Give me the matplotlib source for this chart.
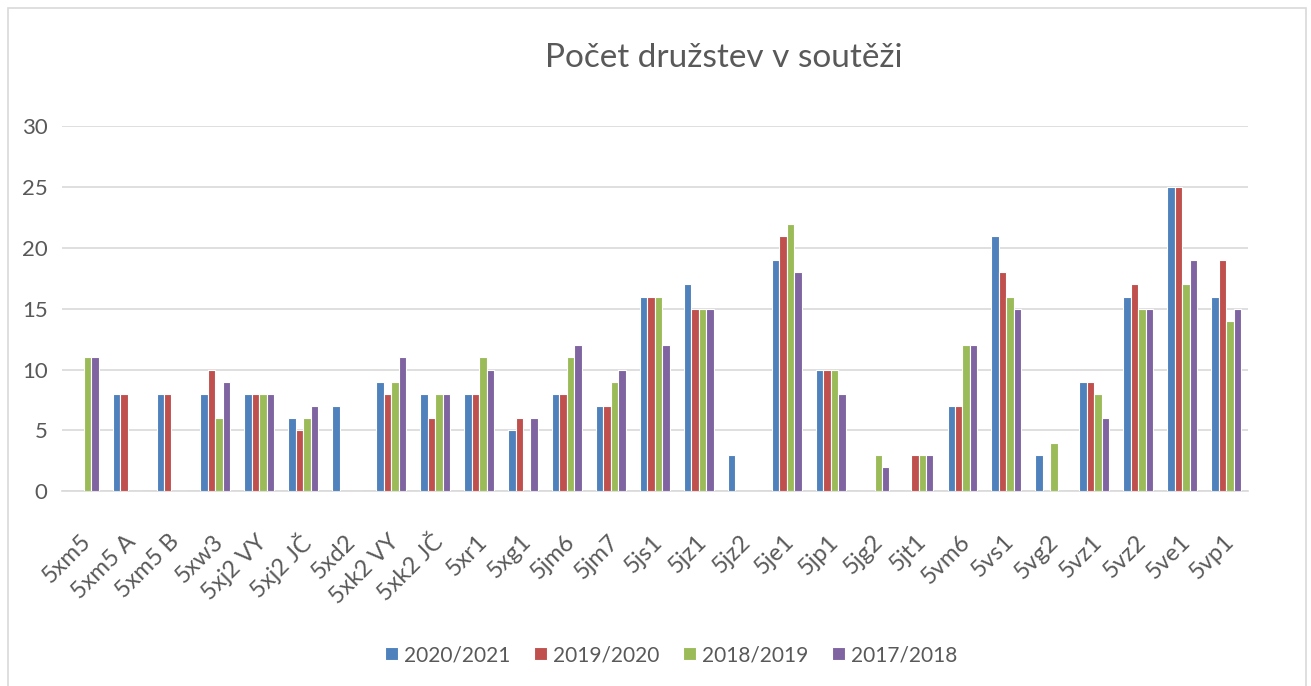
import numpy as np
import matplotlib.pyplot as plt
from matplotlib.patches import Rectangle

categories = ["5xm5", "5xm5 A", "5xm5 B", "5xw3", "5xj2 VY", "5xj2 JČ", "5xd2",
              "5xk2 VY", "5xk2 JČ", "5xr1", "5xg1", "5jm6", "5jm7", "5js1", "5jz1",
              "5jz2", "5je1", "5jp1", "5jg2", "5jt1", "5vm6", "5vs1", "5vg2", "5vz1",
              "5vz2", "5ve1", "5vp1"]
s2020 = [0, 8, 8, 8, 8, 6, 7, 9, 8, 8, 5, 8, 7, 16, 17, 3, 19, 10, 0, 0, 7, 21, 3, 9, 16, 25, 16]
s2019 = [0, 8, 8, 10, 8, 5, 0, 8, 6, 8, 6, 8, 7, 16, 15, 0, 21, 10, 0, 3, 7, 18, 0, 9, 17, 25, 19]
s2018 = [11, 0, 0, 6, 8, 6, 0, 9, 8, 11, 0, 11, 9, 16, 15, 0, 22, 10, 3, 3, 12, 16, 4, 8, 15, 17, 14]
s2017 = [11, 0, 0, 9, 8, 7, 0, 11, 8, 10, 6, 12, 10, 12, 15, 0, 18, 8, 2, 3, 12, 15, 0, 6, 15, 19, 15]
series_names = ["2020/2021", "2019/2020", "2018/2019", "2017/2018"]
colors = ["#4F81BD", "#C0504D", "#9BBB59", "#8064A2"]

txt = "#595959"
fnt = "Lato"
fig = plt.figure(figsize=(13.11, 6.86), dpi=100)
ax = fig.add_axes([0.047, 0.284, 0.905, 0.532])

x = np.arange(len(categories))
w = 0.17
for i, (vals, name, c) in enumerate(zip([s2020, s2019, s2018, s2017], series_names, colors)):
    ax.bar(x + (i - 1.5) * w, vals, width=w, color=c, edgecolor="white",
           linewidth=0.8, label=name, zorder=3)

ax.set_xlim(-0.5, len(categories) - 0.5)
ax.set_ylim(0, 30)
ax.set_yticks(range(0, 31, 5))
ax.grid(axis="y", color="#D9D9D9", linewidth=1.2, zorder=0)
for s in ["top", "right", "left"]:
    ax.spines[s].set_visible(False)
ax.spines["bottom"].set_color("#D9D9D9")
ax.spines["bottom"].set_linewidth(1.2)
ax.set_xticks(x + 0.1)
ax.set_xticklabels(categories, rotation=45, ha="right", va="center", rotation_mode="anchor",
                   fontsize=17, color=txt, family=fnt)
ax.tick_params(axis="x", length=0, pad=34)
ax.tick_params(axis="y", length=0, pad=10, labelsize=16, labelcolor=txt)
for lab in ax.get_yticklabels():
    lab.set_family(fnt)

fig.text(0.552, 0.915, "Počet družstev v soutěži", ha="center", va="center",
         fontsize=24, color=txt, family=fnt)

leg = fig.legend(loc="center", bbox_to_anchor=(0.512, 0.045), ncol=4, frameon=False,
                 handlelength=0.6, handleheight=0.6, handletextpad=0.3,
                 columnspacing=1.15, prop={"family": fnt, "size": 15})
for t in leg.get_texts():
    t.set_color(txt)

fig.patches.append(Rectangle((0.006, -0.01), 0.99, 0.998, transform=fig.transFigure,
                             fill=False, edgecolor="#D9D9D9", linewidth=1.2))

fig.savefig("out.png", dpi=100)
